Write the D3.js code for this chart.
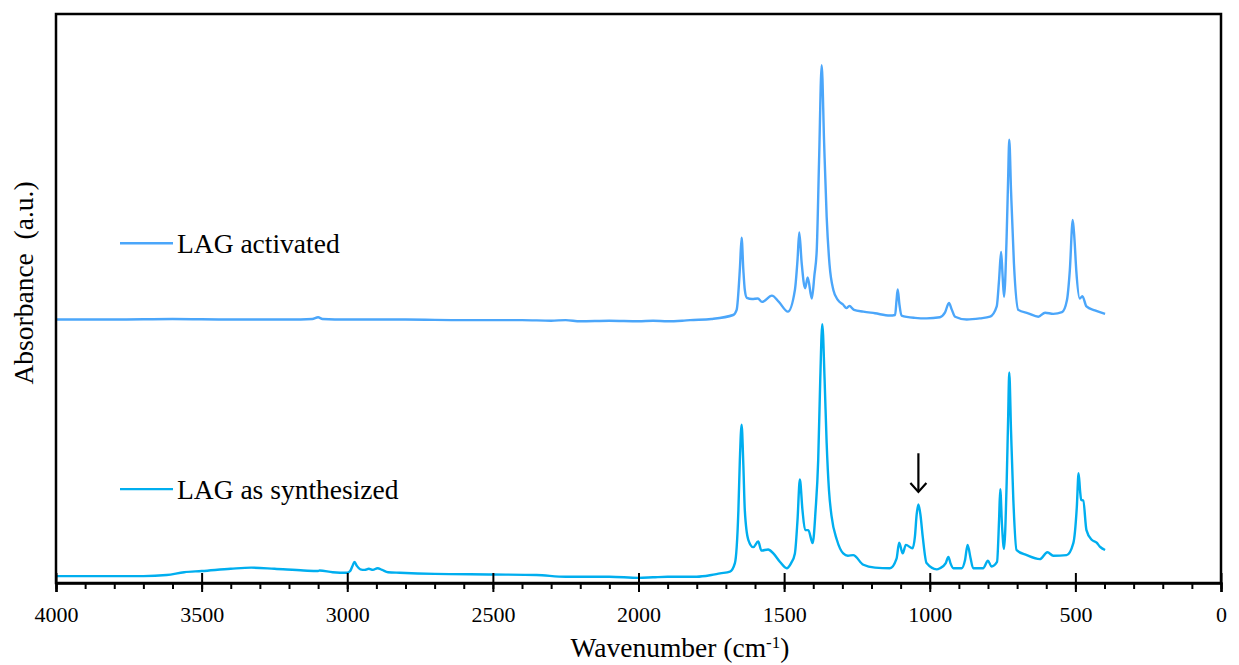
<!DOCTYPE html>
<html>
<head>
<meta charset="utf-8">
<script src="https://cdn.jsdelivr.net/npm/d3@7"></script>
<style>
  html, body { margin: 0; padding: 0; background: #fff; }
  svg { display: block; }
  svg text { font-family: "Times New Roman", "Liberation Serif", serif !important; fill: #000; }
</style>
</head>
<body>
<svg id="chart" width="1239" height="665"></svg>
<script>
// FTIR spectra: [wavenumber (cm-1), absorbance (a.u., stacked)]
const activated = [
  [4000,0.463],[3800,0.463],[3600,0.464],[3400,0.463],[3200,0.463],[3120,0.464],[3100,0.467],[3085,0.464],
  [3000,0.463],[2800,0.463],[2600,0.462],[2400,0.462],[2300,0.461],[2250,0.462],[2200,0.460],[2100,0.461],
  [2000,0.460],[1950,0.461],[1900,0.460],[1850,0.461],[1823,0.462],[1750,0.464],[1675,0.471],[1663,0.480],
  [1651.5,0.556],[1646,0.607],[1640,0.550],[1635,0.515],[1628,0.501],[1610,0.499],[1590,0.500],[1576,0.494],
  [1542,0.505],[1518,0.494],[1487,0.477],[1463,0.515],[1454,0.568],[1448,0.616],[1440,0.564],[1428,0.518],
  [1419,0.537],[1405,0.500],[1396,0.541],[1388,0.585],[1380,0.743],[1371,0.910],[1363,0.779],[1354,0.644],
  [1344,0.559],[1331,0.515],[1315,0.497],[1297,0.489],[1286,0.483],[1276,0.487],[1260,0.480],[1228,0.477],
  [1188,0.474],[1137,0.470],[1119,0.471],[1114,0.497],[1110,0.516],[1104,0.489],[1097,0.470],[1051,0.466],
  [1011,0.465],[965,0.467],[948,0.475],[934,0.492],[924,0.480],[913,0.468],[873,0.463],[828,0.465],
  [793,0.468],[770,0.486],[762,0.533],[755,0.582],[750,0.541],[745,0.503],[736,0.609],[731,0.708],
  [727,0.779],[721,0.691],[711,0.562],[696,0.480],[662,0.474],[627,0.468],[604,0.475],[576,0.473],
  [546,0.476],[529,0.497],[519,0.550],[509,0.638],[503,0.603],[497,0.550],[485,0.500],[476,0.504],
  [462,0.486],[433,0.479],[398,0.473]
];

const synthesized = [
  [4000,0.012],[3800,0.012],[3700,0.012],[3620,0.014],[3560,0.019],[3500,0.021],[3400,0.025],[3330,0.027],
  [3250,0.025],[3150,0.022],[3100,0.021],[3095,0.022],[3050,0.019],[3000,0.018],[2990,0.021],[2982,0.030],
  [2975,0.037],[2967,0.030],[2955,0.024],[2940,0.023],[2926,0.025],[2912,0.023],[2896,0.026],[2880,0.023],
  [2860,0.019],[2820,0.018],[2700,0.016],[2500,0.015],[2350,0.014],[2250,0.011],[2200,0.011],[2100,0.011],
  [2000,0.009],[1950,0.010],[1900,0.011],[1800,0.011],[1750,0.014],[1720,0.017],[1686,0.020],[1669,0.035],
  [1657,0.128],[1652,0.216],[1646,0.278],[1640,0.207],[1635,0.128],[1623,0.076],[1606,0.063],[1589,0.073],
  [1578,0.057],[1555,0.059],[1537,0.052],[1514,0.037],[1491,0.026],[1476,0.035],[1463,0.052],[1454,0.111],
  [1446,0.182],[1437,0.128],[1428,0.093],[1417,0.093],[1402,0.070],[1392,0.128],[1383,0.216],[1376,0.357],
  [1369,0.455],[1361,0.357],[1354,0.246],[1346,0.163],[1337,0.117],[1319,0.076],[1297,0.052],[1281,0.048],
  [1263,0.049],[1228,0.032],[1188,0.027],[1137,0.026],[1114,0.043],[1105,0.071],[1093,0.052],[1082,0.067],
  [1059,0.061],[1051,0.081],[1045,0.120],[1039,0.138],[1032,0.120],[1024,0.081],[1011,0.035],[976,0.024],
  [965,0.026],[945,0.035],[936,0.046],[929,0.035],[919,0.026],[890,0.026],[879,0.040],[870,0.067],
  [860,0.044],[851,0.026],[817,0.026],[800,0.039],[788,0.029],[769,0.037],[762,0.111],[758,0.165],
  [752,0.102],[745,0.060],[736,0.175],[731,0.286],[727,0.370],[721,0.269],[713,0.146],[702,0.058],
  [667,0.049],[622,0.042],[596,0.054],[576,0.048],[530,0.049],[507,0.070],[495,0.134],[489,0.193],
  [484,0.163],[480,0.146],[473,0.145],[462,0.093],[444,0.076],[427,0.071],[416,0.064],[398,0.058]
];

const seriesNames = ["LAG activated", "LAG as synthesized"];
const seriesColors = ["#4BA6FA", "#00AEEF"];
const xTicks = [4000, 3500, 3000, 2500, 2000, 1500, 1000, 500, 0];
const xMinorTicks = d3.range(0, 4001, 100);
const markedBand = [1039]; // band highlighted with an arrow

const FONT = "'Times New Roman', 'Liberation Serif', serif";
const svg = d3.select("#chart");
const margin = { left: 56, right: 18, top: 14, bottom: 82 };
const W = 1239, H = 665;
const x0 = margin.left, x1 = W - margin.right;
const y0 = H - margin.bottom, y1 = margin.top;

const x = d3.scaleLinear().domain([4000, 0]).range([x0, x1]);
const y = d3.scaleLinear().domain([0, 1]).range([y0, y1]);

// spectra
const line = d3.line().x(d => x(d[0])).y(d => y(d[1])).curve(d3.curveMonotoneX);
[activated, synthesized].forEach((data, i) => {
  svg.append("path")
    .datum(data)
    .attr("fill", "none")
    .attr("stroke", seriesColors[i])
    .attr("stroke-width", 2.4)
    .attr("stroke-linejoin", "round")
    .attr("d", line);
});

// frame
svg.append("rect")
  .attr("x", x0).attr("y", y1)
  .attr("width", x1 - x0).attr("height", y0 - y1)
  .attr("fill", "none").attr("stroke", "#000").attr("stroke-width", 2.5);

// minor ticks (outside)
const minorAxis = d3.axisBottom(x).tickValues(xMinorTicks).tickSize(6).tickFormat("");
svg.append("g").attr("transform", `translate(0,${y0})`).call(minorAxis)
  .call(g => g.select(".domain").remove())
  .call(g => g.selectAll("line").attr("stroke-width", 2));

// major ticks crossing the axis
const majorUp = d3.axisTop(x).tickValues(xTicks).tickSize(10).tickFormat("");
svg.append("g").attr("transform", `translate(0,${y0})`).call(majorUp)
  .call(g => g.select(".domain").remove())
  .call(g => g.selectAll("line").attr("stroke-width", 2));

const majorAxis = d3.axisBottom(x).tickValues(xTicks).tickSize(9).tickPadding(14)
  .tickFormat(d3.format("d"));
svg.append("g").attr("transform", `translate(0,${y0})`).call(majorAxis)
  .attr("font-family", FONT)
  .call(g => g.select(".domain").attr("stroke-width", 2.5))
  .call(g => g.selectAll("line").attr("stroke-width", 2))
  .call(g => g.selectAll("text").attr("font-size", 22).attr("font-family", FONT));

// axis titles
const xt = svg.append("text")
  .attr("x", 680).attr("y", 657)
  .attr("text-anchor", "middle").attr("font-size", 27.5).attr("font-family", FONT);
xt.append("tspan").text("Wavenumber (cm");
xt.append("tspan").attr("baseline-shift", "super").attr("font-size", 17).text("-1");
xt.append("tspan").text(")");

svg.append("text")
  .attr("transform", `translate(33,283) rotate(-90)`)
  .attr("text-anchor", "middle").attr("font-size", 27.5).attr("font-family", FONT)
  .attr("xml:space", "preserve")
  .text("Absorbance  (a.u.)");

// legend labels placed beside each trace
const legendY = [0.597, 0.165];
seriesNames.forEach((name, i) => {
  const ly = y(legendY[i]);
  svg.append("line")
    .attr("x1", 120).attr("x2", 173).attr("y1", ly).attr("y2", ly)
    .attr("stroke", seriesColors[i]).attr("stroke-width", 2.4);
  svg.append("text")
    .attr("x", 177).attr("y", ly + 10)
    .attr("font-size", 27.5).attr("font-family", FONT).text(name);
});

// arrow above the marked band of the as-synthesized sample
markedBand.forEach(wn => {
  const ax = x(wn);
  const yTop = y(0.228), yTip = y(0.160);
  svg.append("line").attr("x1", ax).attr("x2", ax).attr("y1", yTop).attr("y2", yTip)
    .attr("stroke", "#000").attr("stroke-width", 2.2);
  svg.append("path")
    .attr("d", `M${ax - 8},${yTip - 9} L${ax},${yTip} L${ax + 8},${yTip - 9}`)
    .attr("fill", "none").attr("stroke", "#000").attr("stroke-width", 2.2);
});
</script>
</body>
</html>
